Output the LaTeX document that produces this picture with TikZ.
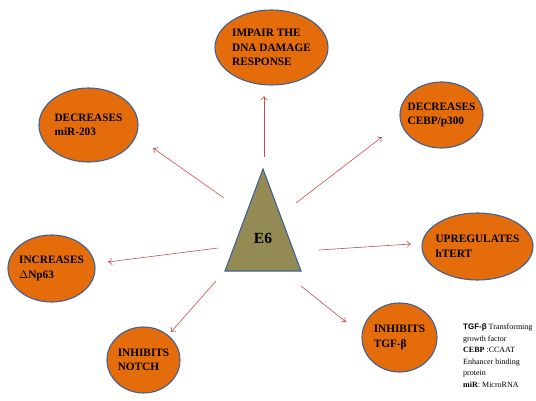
\documentclass[tikz,border=0pt]{standalone}
\usepackage{fontspec}
\setmainfont{Liberation Serif}
\newfontfamily\legsans{Liberation Sans}
\usetikzlibrary{shapes,arrows.meta,positioning,calc}
\definecolor{effectfill}{RGB}{228,108,10}
\definecolor{effectedge}{RGB}{62,98,150}
\definecolor{corefill}{RGB}{148,138,84}
\definecolor{arrowred}{RGB}{192,80,77}
\tikzstyle{effect} = [ellipse, draw=effectedge, line width=1.1pt, fill=effectfill,
  inner sep=-12pt, align=left, font=\fontsize{11.3}{14.5}\selectfont\bfseries]
\tikzstyle{core} = [draw=effectedge, line width=1.1pt, fill=corefill]
\tikzstyle{line} = [draw=arrowred, line width=0.6pt, -{To[length=4pt,width=7pt]}]
\tikzstyle{ann} = [font=\fontsize{8}{11.5}\selectfont, align=left,
  anchor=north west, inner sep=0pt]

\begin{document}
\begin{tikzpicture}[x=1pt, y=-1pt]
\useasboundingbox (0,0) rectangle (536,401);

% ==========================================
% CENTRE: E6 triangle
% ==========================================
\coordinate (apex) at (263,169);
\coordinate (bl) at (225,271);
\coordinate (br) at (301,271);
\draw[core] (apex) -- (br) -- (bl) -- cycle;
\node[font=\fontsize{15.5}{18}\selectfont\bfseries] (e6) at (263,238) {E6};

% ==========================================
% EFFECTS (ellipses round the centre)
% ==========================================
\node[effect, minimum width=113pt, minimum height=75pt] (impair) at (271.5,47.5) {IMPAIR THE\\DNA DAMAGE\\RESPONSE};
\node[effect, minimum width=83pt, minimum height=66pt] (cebp) at (441.5,115) {DECREASES\\CEBP/p300};
\node[effect, minimum width=99pt, minimum height=74pt] (mir) at (88.5,125) {DECREASES\\miR-203};
\node[effect, minimum width=111pt, minimum height=67pt] (htert) at (477.5,246.5) {UPREGULATES\\hTERT};
\node[effect, minimum width=87pt, minimum height=67pt] (dnp) at (51.5,268.5) {INCREASES\\{\mdseries$\Delta$}Np63};
\node[effect, minimum width=73pt, minimum height=66pt] (notch) at (143.5,360) {INHIBITS\\NOTCH};
\node[effect, minimum width=75pt, minimum height=69pt] (tgf) at (399.5,337.5) {INHIBITS\\TGF-β};

% Arrows out of the centre
\foreach \eff/\tail/\head in {impair/{1,-81}/{-7.5,48.5}, cebp/{33,-35}/{-59.5,22},
    mir/{-39,-40}/{64.5,23}, htert/{56,12}/{-66.5,-2.5}, dnp/{-45,10}/{56.5,-6.5},
    notch/{-47,43}/{27.5,-28}, tgf/{38,48}/{-53.5,-15.5}}
  { \draw[line] ([shift={(\tail)}]e6.center) -- ([shift={(\head)}]\eff.center); }

% Legend
\node[ann] (legend) at (463,324) {{\legsans\bfseries TGF-β} Transforming\\growth factor\\\textbf{CEBP} :CCAAT\\Enhancer binding\\protein\\\textbf{miR}: MicroRNA};

\end{tikzpicture}
\end{document}
